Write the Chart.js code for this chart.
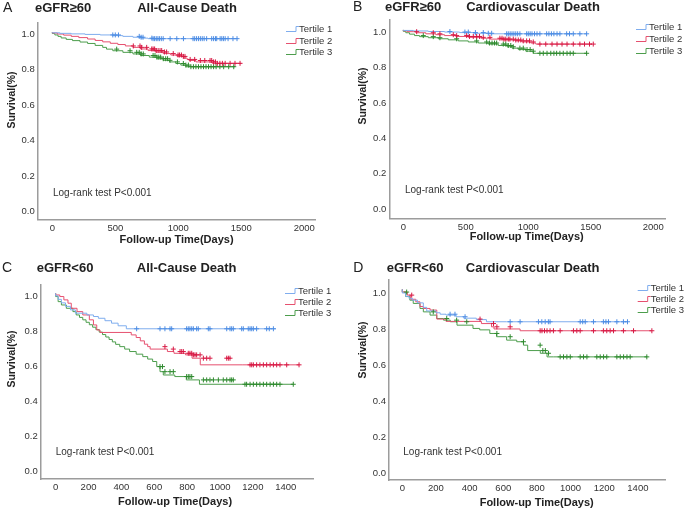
<!DOCTYPE html>
<html>
<head>
<meta charset="utf-8">
<script src="https://cdn.jsdelivr.net/npm/chart.js@4.4.0/dist/chart.umd.min.js"></script>
<style>
  body { margin: 0; background: #fff; }
  canvas { position: absolute; }
</style>
</head>
<body>
<canvas id="chartA" width="340" height="255" style="left:0;top:0"></canvas>
<canvas id="chartB" width="345" height="255" style="left:340px;top:0"></canvas>
<canvas id="chartC" width="340" height="255" style="left:0;top:255px"></canvas>
<canvas id="chartD" width="345" height="255" style="left:340px;top:255px"></canvas>
<script>
// tick labels
var longTicks = [0, 500, 1000, 1500, 2000];
var shortTicks = [0, 200, 400, 600, 800, 1000, 1200, 1400];
var survTicks = [0, 0.2, 0.4, 0.6, 0.8, 1.0];
var tertiles = ["Tertile 1", "Tertile 2", "Tertile 3"];

// A: eGFR>=60, all-cause death
var aT1Time = [0, 60, 150, 260, 380, 480, 560, 640, 700, 760, 800];
var aT1Surv = [1.0, 0.997, 0.994, 0.991, 0.988, 0.985, 0.981, 0.977, 0.972, 0.967, 0.964];
var aT1End = 1470;
var aT1Cens = [480, 500, 525, 690, 705, 720, 790, 800, 812, 825, 838, 850, 865, 880, 935, 988, 1041, 1117, 1130, 1145, 1160, 1175, 1190, 1205, 1225, 1265, 1280, 1295, 1305, 1332, 1345, 1358, 1372, 1395, 1434, 1466];
var aT2Time = [0, 40, 90, 150, 210, 280, 340, 400, 460, 520, 580, 640, 700, 760, 820, 880, 940, 990, 1040, 1070, 1085, 1140, 1270, 1300];
var aT2Surv = [1.0, 0.996, 0.990, 0.984, 0.977, 0.970, 0.962, 0.954, 0.946, 0.938, 0.931, 0.923, 0.915, 0.906, 0.897, 0.889, 0.880, 0.872, 0.864, 0.855, 0.847, 0.841, 0.833, 0.825];
var aT2End = 1500;
var aT2Cens = [643, 696, 709, 749, 789, 800, 812, 825, 840, 855, 868, 890, 907, 960, 998, 1010, 1025, 1040, 1053, 1094, 1130, 1175, 1210, 1252, 1265, 1280, 1295, 1310, 1330, 1350, 1372, 1411, 1450, 1490];
var aT3Time = [0, 20, 45, 70, 110, 160, 220, 280, 340, 400, 430, 480, 560, 640, 700, 770, 830, 880, 930, 980, 1020, 1060, 1090];
var aT3Surv = [1.0, 0.993, 0.985, 0.977, 0.968, 0.960, 0.953, 0.945, 0.937, 0.926, 0.915, 0.905, 0.896, 0.887, 0.878, 0.869, 0.860, 0.851, 0.842, 0.833, 0.824, 0.815, 0.806];
var aT3End = 1450;
var aT3Cens = [511, 617, 670, 690, 705, 722, 800, 815, 830, 845, 860, 881, 900, 915, 934, 993, 1040, 1060, 1080, 1100, 1120, 1140, 1160, 1180, 1200, 1220, 1240, 1260, 1280, 1300, 1330, 1360, 1400, 1440];

// B: eGFR>=60, cardiovascular death
var bT1Time = [0, 80, 200, 330, 450, 560, 680, 790];
var bT1Surv = [1.0, 0.997, 0.994, 0.991, 0.988, 0.985, 0.981, 0.978];
var bT1End = 1470;
var bT1Cens = [373, 493, 520, 577, 640, 680, 707, 827, 840, 855, 870, 885, 900, 915, 933, 987, 1000, 1015, 1030, 1050, 1070, 1093, 1147, 1165, 1185, 1205, 1230, 1253, 1307, 1330, 1360, 1413, 1467];
var bT2Time = [0, 30, 100, 180, 260, 330, 420, 520, 620, 700, 800, 900, 950, 1020, 1060, 1080];
var bT2Surv = [1.0, 0.995, 0.990, 0.984, 0.978, 0.973, 0.968, 0.963, 0.958, 0.953, 0.948, 0.943, 0.938, 0.932, 0.926, 0.920];
var bT2End = 1510;
var bT2Cens = [107, 240, 293, 400, 427, 507, 530, 560, 587, 610, 640, 693, 773, 790, 805, 820, 840, 853, 880, 900, 920, 940, 960, 987, 1010, 1040, 1093, 1140, 1190, 1230, 1270, 1310, 1360, 1413, 1450, 1490, 1520];
var bT3Time = [0, 20, 50, 90, 130, 200, 280, 360, 440, 520, 600, 680, 760, 830, 870, 920, 980, 1040, 1090];
var bT3Surv = [1.0, 0.992, 0.984, 0.976, 0.968, 0.962, 0.956, 0.950, 0.944, 0.938, 0.932, 0.926, 0.920, 0.912, 0.905, 0.897, 0.889, 0.880, 0.868];
var bT3End = 1470;
var bT3Cens = [160, 240, 293, 427, 587, 667, 690, 710, 730, 747, 800, 820, 840, 860, 880, 933, 960, 990, 1015, 1040, 1093, 1120, 1150, 1180, 1205, 1227, 1253, 1280, 1310, 1335, 1360, 1467];

// C: eGFR<60, all-cause death
var cT1Time = [0, 15, 35, 60, 90, 120, 190, 230, 260, 300, 340, 380, 430, 490];
var cT1Surv = [1.0, 0.985, 0.965, 0.945, 0.925, 0.905, 0.886, 0.876, 0.867, 0.857, 0.843, 0.829, 0.814, 0.797];
var cT1End = 1340;
var cT1Cens = [493, 635, 665, 696, 706, 797, 807, 817, 828, 838, 858, 868, 929, 939, 1041, 1061, 1071, 1081, 1132, 1142, 1172, 1183, 1193, 1203, 1223, 1284, 1300, 1325];
var cT2Time = [0, 25, 50, 75, 95, 130, 165, 205, 230, 250, 270, 460, 490, 515, 540, 560, 575, 680, 720, 790, 830, 880, 1135];
var cT2Surv = [1.0, 0.990, 0.981, 0.962, 0.943, 0.914, 0.895, 0.876, 0.848, 0.819, 0.790, 0.776, 0.762, 0.747, 0.728, 0.709, 0.695, 0.681, 0.667, 0.657, 0.648, 0.629, 0.591];
var cT2End = 1480;
var cT2Cens = [665, 716, 757, 767, 777, 807, 817, 828, 838, 848, 858, 879, 899, 919, 939, 1041, 1051, 1061, 1183, 1193, 1203, 1223, 1243, 1264, 1284, 1305, 1325, 1345, 1365, 1406, 1481];
var cT3Time = [0, 15, 35, 65, 105, 125, 145, 165, 185, 205, 225, 245, 265, 285, 305, 325, 345, 365, 390, 420, 450, 490, 530, 560, 590, 615, 635, 655, 725, 795, 875, 1150];
var cT3Surv = [1.0, 0.981, 0.952, 0.933, 0.914, 0.895, 0.876, 0.862, 0.848, 0.834, 0.820, 0.806, 0.792, 0.778, 0.764, 0.750, 0.736, 0.722, 0.708, 0.695, 0.681, 0.667, 0.652, 0.638, 0.624, 0.610, 0.581, 0.552, 0.533, 0.524, 0.505, 0.480];
var cT3End = 1445;
var cT3Cens = [635, 650, 665, 696, 716, 797, 807, 817, 828, 899, 919, 939, 960, 990, 1020, 1041, 1061, 1071, 1081, 1152, 1162, 1183, 1203, 1223, 1243, 1264, 1284, 1305, 1325, 1345, 1365, 1446];

// D: eGFR<60, cardiovascular death
var dT1Time = [0, 20, 40, 60, 90, 125, 145, 200, 225, 260, 320, 365, 440, 500, 620];
var dT1Surv = [1.0, 0.980, 0.961, 0.950, 0.940, 0.925, 0.900, 0.880, 0.870, 0.862, 0.857, 0.848, 0.840, 0.832, 0.820];
var dT1End = 1340;
var dT1Cens = [284, 313, 373, 641, 700, 809, 829, 849, 868, 878, 1057, 1072, 1087, 1136, 1195, 1210, 1225, 1275, 1314, 1338];
var dT2Time = [0, 30, 50, 80, 105, 125, 165, 205, 260, 470, 530, 545, 700, 810];
var dT2Surv = [1.0, 0.985, 0.968, 0.945, 0.931, 0.905, 0.894, 0.885, 0.835, 0.822, 0.810, 0.792, 0.780, 0.770];
var dT2End = 1480;
var dT2Cens = [56, 462, 542, 562, 641, 819, 830, 845, 860, 878, 898, 938, 1017, 1037, 1057, 1136, 1195, 1215, 1235, 1255, 1314, 1374, 1483];
var dT3Time = [0, 20, 45, 65, 105, 125, 165, 205, 245, 285, 325, 420, 460, 520, 560, 620, 680, 720, 745, 820, 860, 900];
var dT3Surv = [1.0, 0.985, 0.960, 0.940, 0.922, 0.894, 0.875, 0.857, 0.838, 0.829, 0.820, 0.801, 0.783, 0.775, 0.755, 0.737, 0.718, 0.709, 0.690, 0.660, 0.645, 0.625];
var dT3End = 1455;
var dT3Cens = [26, 184, 264, 323, 383, 562, 641, 720, 819, 835, 850, 869, 938, 958, 978, 998, 1057, 1077, 1097, 1156, 1176, 1196, 1215, 1275, 1295, 1315, 1335, 1354, 1453];

var lineColors = ["#7fadee", "#e6506f", "#4c9d4c"];
var markColors = ["#4d8de4", "#d81a45", "#2e8a2e"];

Chart.defaults.font.family = "'Liberation Sans', Arial, sans-serif";
Chart.defaults.color = "#333";

function survAt(times, surv, t) {
  var s = surv[0];
  for (var i = 0; i < times.length; i++) {
    if (times[i] <= t) s = surv[i];
  }
  return s;
}

function buildDatasets(curves) {
  var lines = [];
  var marks = [];
  curves.forEach(function (c, k) {
    var pts = c.time.map(function (t, i) { return { x: t, y: c.surv[i] }; });
    pts.push({ x: c.end, y: c.surv[c.surv.length - 1] });
    lines.push({
      label: tertiles[k],
      data: pts,
      showLine: true,
      stepped: "after",
      borderColor: lineColors[k],
      backgroundColor: lineColors[k],
      borderWidth: 1,
      pointRadius: 0
    });
    marks.push({
      label: tertiles[k] + " censored",
      data: c.cens.map(function (t) { return { x: t, y: survAt(c.time, c.surv, t) }; }),
      showLine: false,
      pointStyle: "cross",
      pointRadius: 2.5,
      borderWidth: 1,
      borderColor: markColors[k],
      backgroundColor: markColors[k]
    });
  });
  return marks.concat(lines);
}

var panelText = {
  id: "panelText",
  afterDraw: function (chart, args, o) {
    var ctx = chart.ctx;
    ctx.save();
    ctx.fillStyle = "#222";
    ctx.textBaseline = "middle";
    ctx.textAlign = "left";
    ctx.font = "14px 'Liberation Sans', Arial, sans-serif";
    ctx.fillText(o.letter, o.letterX, o.headY);
    ctx.font = "bold 13px 'Liberation Sans', Arial, sans-serif";
    ctx.fillText(o.group, o.groupX, o.headY);
    ctx.textAlign = "center";
    ctx.fillText(o.title, o.titleX, o.headY);

    ctx.font = "bold 11px 'Liberation Sans', Arial, sans-serif";
    ctx.fillText("Follow-up Time(Days)", o.xTitleX, o.xTitleY);
    ctx.save();
    ctx.translate(o.yTitleX, o.yTitleY);
    ctx.rotate(-Math.PI / 2);
    ctx.font = "bold 10.5px 'Liberation Sans', Arial, sans-serif";
    ctx.fillText("Survival(%)", 0, 0);
    ctx.restore();

    ctx.textAlign = "left";
    ctx.fillStyle = "#333";
    ctx.font = "10px 'Liberation Sans', Arial, sans-serif";
    ctx.fillText("Log-rank test P<0.001", o.logX, o.logY);

    ctx.font = "9.5px 'Liberation Sans', Arial, sans-serif";
    tertiles.forEach(function (name, k) {
      var y = Math.round(o.legY + k * o.legGap) + 0.5;
      ctx.strokeStyle = lineColors[k];
      ctx.lineWidth = 1;
      ctx.beginPath();
      ctx.moveTo(o.legX, y + 2);
      ctx.lineTo(o.legX + 10, y + 2);
      ctx.lineTo(o.legX + 10, y - 3);
      ctx.lineTo(o.legX + 13, y - 3);
      ctx.stroke();
      ctx.fillText(name, o.legX + 13, y);
    });
    ctx.restore();
  }
};

function makePanel(p) {
  var canvas = document.getElementById(p.id);
  var W = canvas.width, H = canvas.height;
  new Chart(canvas, {
    type: "scatter",
    data: { datasets: buildDatasets(p.curves) },
    options: {
      responsive: false,
      animation: false,
      events: [],
      layout: { padding: { left: 0, top: p.area.top, right: W - p.area.right, bottom: 0 } },
      plugins: { legend: { display: false }, tooltip: { enabled: false }, panelText: p.text },
      scales: {
        x: {
          type: "linear", min: p.xMin, max: p.xMax,
          grid: { display: false, drawTicks: false },
          border: { display: true, color: "#9c9c9c", width: 1.5 },
          ticks: {
            padding: 3, font: { size: 9.5 }, color: "#333",
            callback: function (v) { return String(v); }
          },
          afterBuildTicks: function (s) { s.ticks = p.xTicks.map(function (v) { return { value: v }; }); },
          afterFit: function (s) { s.height = H - p.area.bottom; }
        },
        y: {
          type: "linear", min: p.yMin, max: p.yMax,
          grid: { display: false, drawTicks: false },
          border: { display: true, color: "#9c9c9c", width: 1.5 },
          ticks: {
            padding: 3, labelOffset: p.labelOffset, font: { size: 9.5 }, color: "#333",
            callback: function (v) { return v.toFixed(1); }
          },
          afterBuildTicks: function (s) { s.ticks = survTicks.map(function (v) { return { value: v }; }); },
          afterFit: function (s) { s.width = p.area.left; }
        }
      }
    },
    plugins: [panelText]
  });
}

makePanel({
  id: "chartA", xMin: -116, xMax: 2085, yMin: -0.054, yMax: 1.054, xTicks: longTicks, labelOffset: 2,
  area: { left: 37.7, right: 315, top: 22.7, bottom: 219.3 },
  curves: [
    { time: aT1Time, surv: aT1Surv, end: aT1End, cens: aT1Cens },
    { time: aT2Time, surv: aT2Surv, end: aT2End, cens: aT2Cens },
    { time: aT3Time, surv: aT3Surv, end: aT3End, cens: aT3Cens }
  ],
  text: { letter: "A", group: "eGFR\u226560", title: "All-Cause Death", letterX: 3, groupX: 35, titleX: 187, headY: 8,
    logX: 53, logY: 193, legX: 286, legY: 29, legGap: 11.5, yTitleX: 11.7, yTitleY: 100, xTitleX: 176.5, xTitleY: 240 }
});

makePanel({
  id: "chartB", xMin: -112, xMax: 2094, yMin: -0.064, yMax: 1.056, xTicks: longTicks, labelOffset: 2.3,
  area: { left: 49.3, right: 325, top: 20, bottom: 218.3 },
  curves: [
    { time: bT1Time, surv: bT1Surv, end: bT1End, cens: bT1Cens },
    { time: bT2Time, surv: bT2Surv, end: bT2End, cens: bT2Cens },
    { time: bT3Time, surv: bT3Surv, end: bT3End, cens: bT3Cens }
  ],
  text: { letter: "B", group: "eGFR\u226560", title: "Cardiovascular Death", letterX: 13, groupX: 45, titleX: 193, headY: 7.5,
    logX: 65, logY: 190, legX: 296, legY: 26.5, legGap: 12, yTitleX: 23.3, yTitleY: 96, xTitleX: 186.7, xTitleY: 236.7 }
});

makePanel({
  id: "chartC", xMin: -91, xMax: 1566, yMin: -0.061, yMax: 1.051, xTicks: shortTicks, labelOffset: 3,
  area: { left: 40.7, right: 313, top: 29.3, bottom: 224 },
  curves: [
    { time: cT1Time, surv: cT1Surv, end: cT1End, cens: cT1Cens },
    { time: cT2Time, surv: cT2Surv, end: cT2End, cens: cT2Cens },
    { time: cT3Time, surv: cT3Surv, end: cT3End, cens: cT3Cens }
  ],
  text: { letter: "C", group: "eGFR<60", title: "All-Cause Death", letterX: 2, groupX: 36.7, titleX: 186.7, headY: 13.5,
    logX: 55.7, logY: 197.3, legX: 285, legY: 35.7, legGap: 11, yTitleX: 11.7, yTitleY: 104, xTitleX: 175, xTitleY: 246.7 }
});

makePanel({
  id: "chartD", xMin: -79, xMax: 1561, yMin: -0.059, yMax: 1.052, xTicks: shortTicks, labelOffset: 4,
  area: { left: 49, right: 325, top: 25, bottom: 225 },
  curves: [
    { time: dT1Time, surv: dT1Surv, end: dT1End, cens: dT1Cens },
    { time: dT2Time, surv: dT2Surv, end: dT2End, cens: dT2Cens },
    { time: dT3Time, surv: dT3Surv, end: dT3End, cens: dT3Cens }
  ],
  text: { letter: "D", group: "eGFR<60", title: "Cardiovascular Death", letterX: 13.3, groupX: 46.7, titleX: 192.7, headY: 13.5,
    logX: 63.3, logY: 197.3, legX: 297.7, legY: 32.7, legGap: 11.2, yTitleX: 23.3, yTitleY: 95, xTitleX: 196.7, xTitleY: 248.3 }
});
</script>
</body>
</html>
